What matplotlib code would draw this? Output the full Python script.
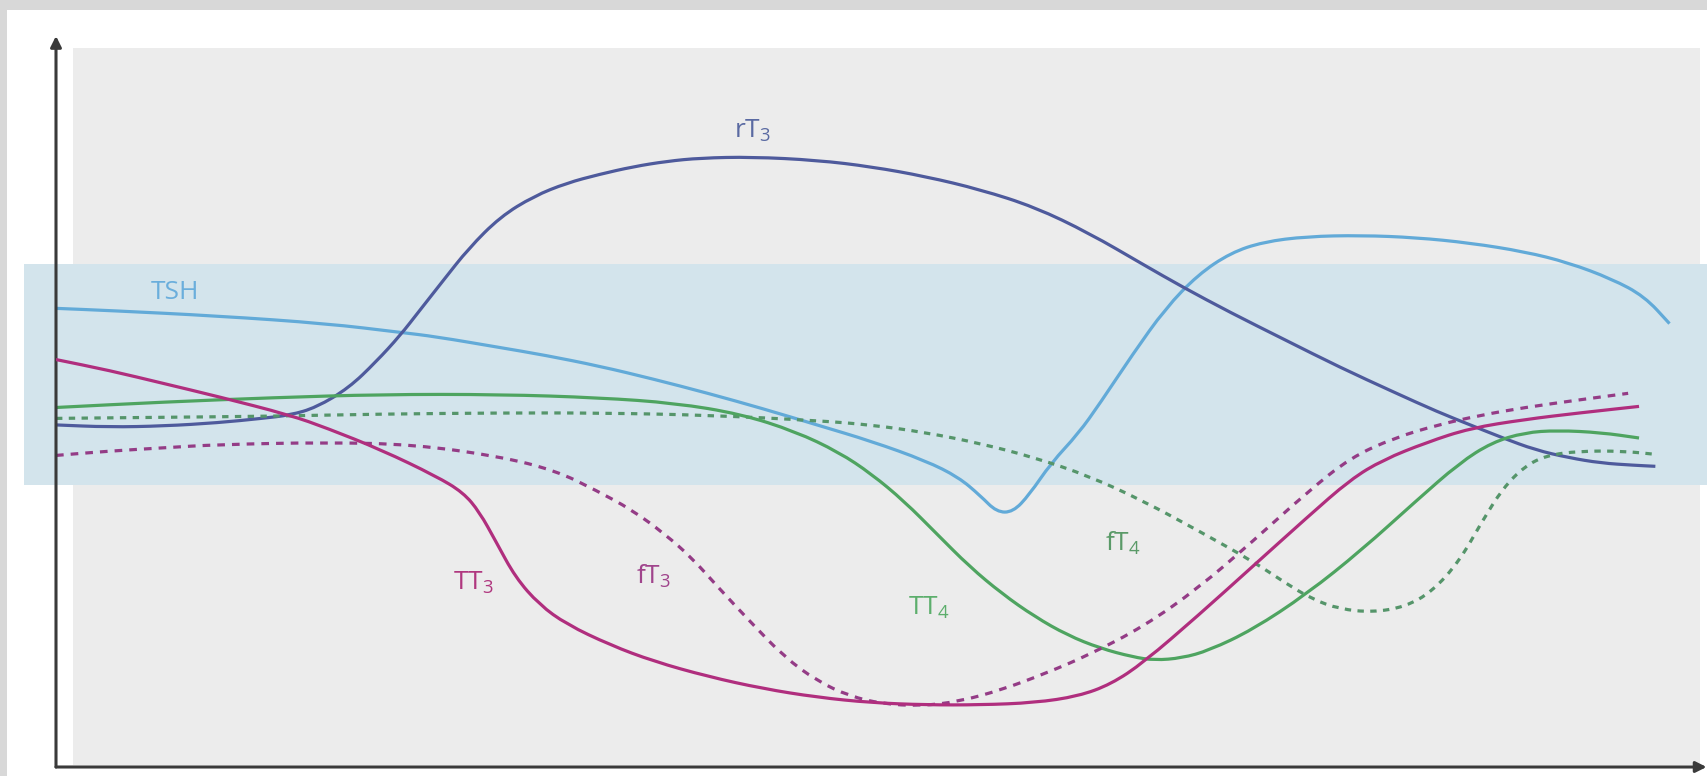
import matplotlib
matplotlib.use("Agg")
import matplotlib.pyplot as plt
from matplotlib.patches import Rectangle, PathPatch
from matplotlib.path import Path

plt.rcParams['font.family'] = ['Open Sans', 'DejaVu Sans']
plt.rcParams['mathtext.fontset'] = 'custom'
plt.rcParams['mathtext.rm'] = 'Open Sans'
plt.rcParams['mathtext.it'] = 'Open Sans:italic'

# Schematic time course of thyroid hormones (arbitrary units)
normal_range = (25.9, 46.2)

rt3_t = [0, 4.9, 9.9, 14.9, 18.9, 21.5, 23.9, 26.9, 29.4, 31.6, 33.4, 35.6, 37.9,
         40.8, 43.9, 46.9, 49.9, 53.0, 56.1, 59.2, 63.9, 69.9, 74.9, 79.9, 84.9,
         89.9, 94.9, 99.9, 103.4, 107.9, 112.9, 117.9, 122.9, 126.9, 129.9, 132.9,
         135.9, 138.9, 141.9, 144.9, 146.9]
rt3_v = [31.4, 31.2, 31.3, 31.6, 32.0, 32.3, 33.0, 34.8, 37.2, 39.6, 41.9, 44.7, 47.6,
         50.5, 52.4, 53.6, 54.4, 55.1, 55.6, 55.9, 56.0, 55.7, 55.1, 54.2, 53.0,
         51.4, 49.0, 46.1, 44.1, 41.7, 39.2, 36.7, 34.4, 32.6, 31.4, 30.2,
         29.1, 28.4, 27.9, 27.7, 27.6]

tsh_t = [0, 4.9, 14.9, 24.9, 31.6, 34.9, 40.8, 44.9, 49.9, 54.9, 59.9, 64.9, 69.9,
         74.9, 79.9, 82.9, 84.9, 86.4, 87.9, 89.4, 91.4, 93.9, 95.9, 98.9, 101.9,
         104.9, 107.9, 110.9, 114.9, 119.9, 124.9, 129.9, 134.9, 138.9, 142.9,
         145.9, 148.2]
tsh_v = [42.1, 41.9, 41.4, 40.7, 39.9, 39.5, 38.5, 37.8, 36.8, 35.6, 34.3, 32.9, 31.4,
         29.9, 28.1, 26.6, 24.9, 23.4, 23.4, 25.0, 27.9, 30.6, 33.4, 37.9, 42.1,
         45.2, 47.2, 48.2, 48.7, 48.8, 48.6, 48.1, 47.3, 46.3, 44.8,
         43.2, 40.7]

ft4_t = [0, 9.9, 19.9, 29.9, 40.8, 49.9, 59.9, 69.9, 74.9, 79.9, 84.9, 89.9, 94.9,
         99.9, 104.9, 109.9, 112.9, 115.4, 117.9, 120.9, 123.9, 126.4, 128.9, 130.9,
         132.9, 134.9, 136.9, 139.9, 143.9, 146.9]
ft4_v = [32.0, 32.1, 32.2, 32.4, 32.5, 32.5, 32.3, 31.8, 31.4, 30.7, 29.7, 28.4, 26.7,
         24.4, 21.7, 18.9, 16.9, 15.4, 14.5, 14.2, 14.7, 16.1, 18.9, 22.4,
         25.6, 27.6, 28.6, 29.0, 29.0, 28.7]

tt4_t = [0, 9.9, 19.9, 29.9, 40.8, 49.9, 56.9, 62.9, 67.9, 71.9, 74.9, 77.9, 80.9,
         83.9, 86.9, 89.9, 92.9, 95.9, 98.9, 100.9, 103.4, 105.9, 109.9, 114.9,
         119.9, 124.9, 128.9, 131.9, 134.9, 137.9, 141.9, 145.4]
tt4_v = [33.0, 33.5, 33.9, 34.2, 34.2, 33.9, 33.4, 32.4, 30.8, 28.9, 26.9, 24.4, 21.4,
         18.4, 15.9, 13.8, 12.1, 10.9, 10.1, 9.8, 10.0, 10.7, 12.6, 15.9,
         19.9, 24.4, 27.9, 29.8, 30.7, 30.9, 30.7, 30.2]

tt3_t = [0, 4.9, 9.9, 14.9, 21.5, 24.9, 29.9, 34.9, 37.4, 38.9, 40.4, 42.2, 44.4,
         46.9, 50.9, 54.9, 59.9, 64.9, 69.9, 74.9, 79.9, 84.9, 89.9, 93.9, 96.9,
         99.9, 104.9, 109.9, 114.9, 118.9, 121.9, 125.9, 129.9, 134.9, 139.9, 145.4]
tt3_v = [37.4, 36.4, 35.2, 34.0, 32.3, 31.1, 29.1, 26.7, 25.2, 23.4, 20.7, 17.4, 14.9,
         13.1, 11.2, 9.7, 8.3, 7.2, 6.4, 5.9, 5.7, 5.7, 5.9, 6.5, 7.6,
         9.6, 13.9, 18.4, 22.9, 26.4, 28.2, 29.8, 31.1, 31.9, 32.5, 33.1]

ft3_t = [0, 4.9, 9.9, 14.9, 24.9, 32.9, 40.8, 45.9, 49.6, 52.9, 55.9, 58.4, 60.9,
         63.9, 66.9, 69.9, 72.9, 75.9, 79.4, 82.9, 86.9, 90.9, 94.9, 99.9, 104.9,
         109.9, 114.9, 118.9, 122.9, 126.9, 130.9, 134.9, 139.9, 144.4]
ft3_v = [28.6, 29.0, 29.3, 29.6, 29.8, 29.6, 28.5, 27.2, 25.4, 23.6, 21.4, 19.2, 16.4,
         13.2, 10.1, 7.9, 6.5, 5.8, 5.6, 6.0, 7.1, 8.6, 10.3, 12.9, 16.4,
         20.7, 25.2, 28.4, 30.2, 31.4, 32.3, 33.0, 33.7, 34.3]

W, H = 1708, 776
fig = plt.figure(figsize=(W / 100, H / 100), dpi=100, facecolor='white')


def px_rect(x0, y0, x1, y1, color):
    # rectangle in pixel coordinates measured from the top-left corner
    fig.add_artist(Rectangle((x0 / W, 1 - y1 / H), (x1 - x0) / W, (y1 - y0) / H,
                             transform=fig.transFigure, facecolor=color,
                             edgecolor='none', zorder=0))


def curve(ax, xs, ys, **kw):
    # smooth quadratic path that uses the points as control points
    pts = list(zip(xs, ys))
    mids = [((a[0] + b[0]) / 2, (a[1] + b[1]) / 2) for a, b in zip(pts[:-1], pts[1:])]
    verts = [pts[0], mids[0]]
    codes = [Path.MOVETO, Path.LINETO]
    for p, m in zip(pts[1:-1], mids[1:]):
        verts += [p, m]
        codes += [Path.CURVE3, Path.CURVE3]
    verts.append(pts[-1])
    codes.append(Path.LINETO)
    ax.add_patch(PathPatch(Path(verts, codes), fill=False, capstyle='butt', **kw))


px_rect(0, 0, W, 10, '#d8d8d8')
px_rect(0, 0, 7, H, '#d8d8d8')
px_rect(73, 48, 1700, 765, '#ececec')

ax = fig.add_axes([56 / W, (H - 767) / H, (1700 - 56) / W, (767 - 36) / H])
ax.patch.set_alpha(0)
ax.set_xlim(0, 151)
ax.set_ylim(0, 67.1)
for s in ax.spines.values():
    s.set_visible(False)
ax.set_xticks([])
ax.set_yticks([])

ax.fill_between([-2.9, 151.7], normal_range[0], normal_range[1],
                color='#d3e4ec', lw=0, clip_on=False, zorder=1)

lw = 2.3
curve(ax, tsh_t, tsh_v, edgecolor='#62aad8', lw=lw, zorder=3)
curve(ax, rt3_t, rt3_v, edgecolor='#4e5a9c', lw=lw, zorder=3)
curve(ax, ft4_t, ft4_v, edgecolor='#55956a', lw=lw, linestyle=(0, (2.0, 2.0)), zorder=3)
curve(ax, tt4_t, tt4_v, edgecolor='#4ea460', lw=lw, zorder=3)
curve(ax, ft3_t, ft3_v, edgecolor='#943c86', lw=lw, linestyle=(0, (2.4, 2.2)), zorder=3)
curve(ax, tt3_t, tt3_v, edgecolor='#b02e7e', lw=lw, zorder=4)

# axis arrows
arrow = dict(arrowstyle='-|>', color='#3a3a3a', lw=2.2, mutation_scale=16,
             shrinkA=0, shrinkB=0)
ax.annotate('', xy=(0, 1.0), xytext=(0, 0), xycoords='axes fraction',
            arrowprops=arrow, annotation_clip=False)
ax.annotate('', xy=(1.004, 0), xytext=(0, 0), xycoords='axes fraction',
            arrowprops=arrow, annotation_clip=False)

labels = [
    (r'$\mathrm{rT}_3$', 64.0, 58.4, '#5a6aa2'),
    ('TSH', 10.9, 43.6, '#6aaedc'),
    (r'$\mathrm{TT}_3$', 38.3, 16.9, '#b0377f'),
    (r'$\mathrm{fT}_3$', 54.9, 17.5, '#a0448c'),
    (r'$\mathrm{TT}_4$', 80.2, 14.6, '#5cae6c'),
    (r'$\mathrm{fT}_4$', 98.0, 20.5, '#5a9a68'),
]
for txt, x, y, c in labels:
    ax.text(x, y, txt, color=c, fontsize=19, ha='center', va='center', zorder=5)

fig.savefig('out.png', dpi=100, facecolor='white')
